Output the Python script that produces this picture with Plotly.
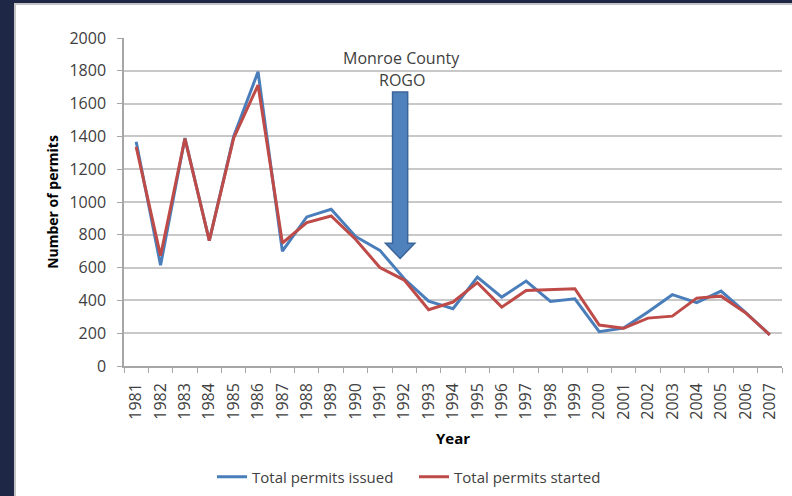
import plotly.graph_objects as go

# Building permits in Monroe County, 1981-2007
years = [str(y) for y in range(1981, 2008)]
permits_issued = [1367, 614, 1390, 765, 1400, 1794, 700, 909, 956, 790, 705, 532,
                  396, 349, 542, 420, 518, 394, 410, 209, 232, 329, 435, 386, 457, 327, 190]
permits_started = [1336, 672, 1387, 765, 1390, 1713, 750, 874, 915, 773, 600, 524,
                   343, 390, 508, 359, 461, 467, 471, 250, 230, 292, 304, 414, 426, 325, 190]
y_ticks = [0, 200, 400, 600, 800, 1000, 1200, 1400, 1600, 1800, 2000]

FONT = "Open Sans"
W, H = 792, 496
ML, MR, MT, MB = 124, 10, 38, 130
PW, PH = W - ML - MR, H - MT - MB


def px_x(px):
    return (px - ML) / PW


def px_y(py):
    return (H - MB - py) / PH


fig = go.Figure()
fig.add_trace(go.Scatter(x=years, y=permits_issued, mode="lines",
                         name="Total permits issued",
                         line=dict(color="#4a7ebb", width=3)))
fig.add_trace(go.Scatter(x=years, y=permits_started, mode="lines",
                         name="Total permits started",
                         line=dict(color="#be4b48", width=3)))

# ROGO marker arrow (category index coordinates on x)
ax_c = 10.83
shaft, head = 0.31, 0.6
y_top, y_neck, y_tip = 1670, 748, 656
arrow_path = (f"M {ax_c - shaft} {y_top} L {ax_c + shaft} {y_top} "
              f"L {ax_c + shaft} {y_neck} L {ax_c + head} {y_neck} "
              f"L {ax_c} {y_tip} L {ax_c - head} {y_neck} "
              f"L {ax_c - shaft} {y_neck} Z")

shapes = [
    # white slide panel over the dark frame
    dict(type="rect", xref="paper", yref="paper", layer="below",
         x0=px_x(15), x1=px_x(W + 10), y0=px_y(H + 10), y1=px_y(4),
         fillcolor="white", line=dict(color="#c4c4c4", width=2)),
    dict(type="path", xref="x", yref="y", path=arrow_path,
         fillcolor="#4f81bd", line=dict(color="#3b659a", width=1.5)),
]

annotations = [
    dict(text="Monroe County", x=10.9, y=px_y(58), xref="x", yref="paper",
         xanchor="center", yanchor="middle", showarrow=False,
         font=dict(family=FONT, size=16, color="#404040")),
    dict(text="ROGO", x=10.9, y=px_y(80), xref="x", yref="paper",
         xanchor="center", yanchor="middle", showarrow=False,
         font=dict(family=FONT, size=16, color="#404040")),
]

fig.update_layout(
    width=W, height=H,
    margin=dict(l=ML, r=MR, t=MT, b=MB, autoexpand=False),
    paper_bgcolor="#1e2846",
    plot_bgcolor="white",
    shapes=shapes,
    annotations=annotations,
    showlegend=True,
    legend=dict(orientation="h", x=px_x(212), xanchor="left",
                y=px_y(477), yanchor="middle",
                font=dict(family=FONT, size=15, color="#404040"),
                bgcolor="rgba(0,0,0,0)", entrywidth=157, traceorder="normal"),
    font=dict(family=FONT, color="#404040"),
)

fig.update_xaxes(
    type="category", range=[-0.5, len(years) - 0.5], automargin=False,
    tickson="boundaries", ticks="outside", ticklen=5,
    tickcolor="#a6a6a6", tickangle=-90, showgrid=False,
    showline=True, linecolor="#a6a6a6", linewidth=1.5,
    tickfont=dict(family=FONT, size=16, color="#404040"),
    ticklabelstandoff=9,
    title=dict(text="<b>Year</b>", font=dict(family=FONT, size=15, color="#000000"),
               standoff=15),
)
fig.update_yaxes(
    range=[0, 2000], tickvals=y_ticks, automargin=False,
    ticks="outside", ticklen=5,
    tickcolor="#a6a6a6", showgrid=True, gridcolor="#c8c8c8", gridwidth=1.5,
    showline=True, linecolor="#a6a6a6", linewidth=1.5, zeroline=False,
    tickfont=dict(family=FONT, size=16, color="#404040"),
    ticklabelstandoff=8,
    title=dict(text="<b>Number of permits</b>",
               font=dict(family=FONT, size=14, color="#000000"), standoff=8),
)

fig.write_html("out.html")
